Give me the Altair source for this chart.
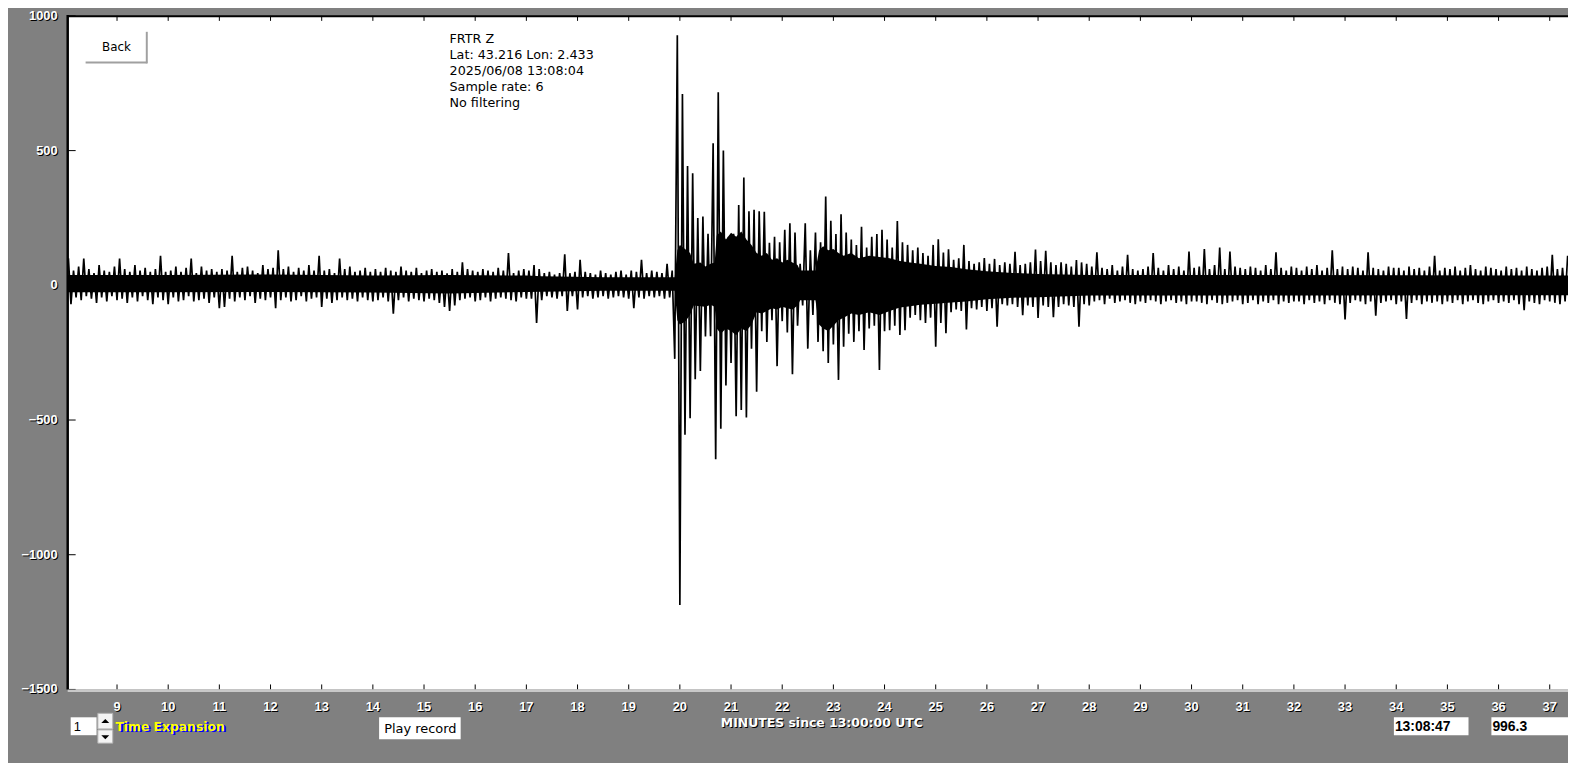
import altair as alt
import pandas as pd

# ---------------------------------------------------------------
# Seismogram FRTR Z, peak readings every 0.05 minute (3 s),
# alternating upper / lower extremes.
# ---------------------------------------------------------------
T_START = 8.05
T_STEP = 0.05

PEAKS = [
    # 8.05 - 9.00
    100, -70, 55, -45, 70, -55, 99, -40, 60, -50, 45, -65, 75, -45, 55, -60, 50, -40, 70, -55,
    # 9.05 - 10.00
    99, -50, 60, -65, 50, -45, 75, -60, 55, -40, 65, -55, 50, -70, 60, -45, 110, -55, 50, -70,
    # 10.05 - 11.00
    55, -45, 70, -60, 50, -55, 65, -40, 99, -60, 45, -55, 70, -50, 55, -65, 60, -45, 50, -85,
    # 11.05 - 12.00
    60, -80, 55, -50, 110, -60, 50, -45, 65, -55, 70, -40, 55, -65, 45, -50, 75, -55, 60, -45,
    # 12.05 - 13.00
    65, -85, 130, -55, 60, -45, 70, -60, 50, -55, 65, -40, 55, -60, 75, -50, 55, -45, 110, -80,
    # 13.05 - 14.00
    55, -50, 60, -65, 45, -55, 99, -45, 60, -55, 70, -50, 50, -60, 55, -45, 65, -55, 50, -60,
    # 14.05 - 15.00
    60, -55, 50, -45, 65, -60, 55, -105, 50, -55, 70, -45, 55, -60, 50, -50, 65, -55, 45, -60,
    # 15.05 - 16.00
    55, -50, 60, -55, 50, -65, 55, -80, 45, -95, 60, -75, 50, -55, 85, -50, 60, -45, 55, -60,
    # 16.05 - 17.00
    50, -55, 60, -45, 55, -60, 50, -50, 65, -45, 55, -50, 120, -55, 45, -60, 55, -45, 60, -50,
    # 17.05 - 18.00
    55, -50, 75, -140, 60, -55, 45, -40, 50, -45, 40, -50, 45, -40, 115, -95, 45, -40, 50, -90,
    # 18.05 - 19.00
    95, -45, 50, -40, 45, -50, 40, -45, 55, -40, 45, -50, 40, -45, 50, -40, 55, -45, 40, -50,
    # 19.05 - 20.00
    55, -85, 50, -45, 95, -50, 45, -40, 55, -45, 50, -40, 45, -50, 80, -45, 55, -273, 928, -1187,
    # 20.05 - 21.00
    710, -555, 443, -493, 416, -349, 250, -318, 255, -190, 191, -189, 527, -646, 717, -532, 500, -372, 180, -288,
    # 21.05 - 22.00
    191, -486, 298, -463, 400, -491, 275, -235, 280, -395, 275, -170, 273, -210, 158, -130, 180, -300, 160, -133,
    # 22.05 - 23.00
    206, -175, 230, -330, 196, -150, 80, -75, 230, -235, 130, -110, 196, -210, 160, -245, 330, -288, 240, -220,
    # 23.05 - 24.00
    190, -351, 264, -228, 196, -180, 170, -210, 150, -170, 217, -240, 140, -160, 180, -150, 190, -314, 206, -170,
    # 24.05 - 25.00
    170, -167, 140, -150, 239, -184, 160, -167, 150, -120, 130, -110, 140, -130, 120, -140, 110, -120, 150, -228,
    # 25.05 - 26.00
    171, -140, 122, -178, 134, -100, 95, -90, 100, -95, 150, -164, 90, -85, 80, -90, 85, -80, 101, -95,
    # 26.05 - 27.00
    80, -85, 98, -154, 75, -70, 85, -75, 80, -70, 124, -80, 75, -111, 80, -75, 85, -80, 133, -121,
    # 27.05 - 28.00
    90, -75, 128, -80, 85, -118, 75, -80, 85, -70, 80, -75, 70, -80, 94, -154, 85, -70, 80, -75,
    # 28.05 - 29.00
    70, -60, 123, -55, 65, -70, 60, -50, 75, -65, 55, -60, 70, -55, 113, -65, 60, -70, 55, -60,
    # 29.05 - 30.00
    60, -65, 70, -55, 120, -60, 65, -70, 55, -60, 75, -55, 60, -65, 70, -60, 55, -70, 125, -60,
    # 30.05 - 31.00
    65, -60, 70, -65, 135, -70, 60, -55, 75, -65, 140, -70, 60, -65, 125, -60, 70, -55, 65, -70,
    # 31.05 - 32.00
    60, -65, 70, -55, 65, -70, 55, -60, 75, -65, 60, -55, 123, -70, 65, -60, 55, -65, 70, -60,
    # 32.05 - 33.00
    65, -60, 55, -70, 70, -55, 60, -65, 75, -60, 55, -70, 65, -55, 130, -65, 60, -70, 70, -127,
    # 33.05 - 34.00
    60, -65, 70, -55, 65, -60, 55, -70, 123, -60, 65, -113, 60, -65, 55, -60, 70, -55, 65, -70,
    # 34.05 - 35.00
    65, -60, 55, -125, 70, -65, 60, -55, 65, -70, 55, -60, 70, -65, 110, -60, 55, -70, 65, -60,
    # 35.05 - 36.00
    60, -65, 70, -55, 55, -70, 65, -60, 75, -55, 60, -65, 55, -70, 70, -60, 65, -55, 60, -65,
    # 36.05 - 37.00
    55, -60, 70, -65, 60, -55, 65, -70, 55, -92, 70, -60, 60, -65, 55, -70, 65, -55, 70, -60,
    # 37.05 - 37.35
    113, -65, 60, -70, 65, -60, 110,
]

# densely over-drawn core of the trace (upper / lower edge)
CORE_T = [8.04, 10.0, 12.0, 14.0, 15.5, 17.0, 17.3, 18.5, 19.9,
          19.95, 20.0, 20.1, 20.2, 20.27, 20.4, 20.5, 20.6, 20.68, 20.72,
          20.8, 20.9, 21.0, 21.1, 21.2, 21.3, 21.4, 21.5, 21.6, 21.7,
          21.8, 21.9, 22.0, 22.1, 22.2, 22.3, 22.35, 22.65, 22.72, 22.8,
          22.9, 23.0, 23.1, 23.2, 23.35, 23.5, 23.7, 23.9, 24.1, 24.3,
          24.5, 24.7, 25.0, 25.3, 25.6, 26.0, 26.5, 27.0, 28.0, 32.0, 37.36]
CORE_HI = [38, 38, 40, 36, 38, 36, 34, 30, 30,
           130, 150, 135, 120, 80, 85, 70, 80, 85, 185,
           200, 170, 195, 180, 200, 170, 150, 120, 110, 120,
           95, 100, 85, 95, 85, 75, 55, 55, 130, 145,
           130, 135, 120, 110, 120, 100, 110, 105, 100, 90,
           85, 80, 72, 68, 60, 52, 46, 42, 38, 38, 36]
CORE_LO = [-26, -26, -25, -27, -30, -25, -24, -20, -20,
           -130, -145, -135, -110, -75, -78, -80, -72, -80, -160,
           -180, -160, -170, -185, -160, -170, -145, -100, -105, -95,
           -85, -90, -80, -85, -90, -75, -55, -55, -145, -160,
           -170, -150, -130, -120, -105, -110, -100, -110, -95, -82,
           -78, -72, -68, -64, -60, -52, -46, -44, -38, -38, -37]

MINUTE_TICKS = list(range(9, 38))
COUNT_TICKS = [1000, 500, 0, -500, -1000, -1500]
INFO_LINES = [
    "FRTR  Z",
    "Lat: 43.216 Lon: 2.433",
    "2025/06/08 13:08:04",
    "Sample rate: 6",
    "No filtering",
]
X_TITLE = "MINUTES since 13:00:00 UTC"

X_DOMAIN = [8.036, 37.357]
Y_DOMAIN = [-1500, 1000]

W, H = 1508, 677
GRAY_BG = "#808080"

times = [round(T_START + T_STEP * i, 3) for i in range(len(PEAKS))]
trace_df = pd.DataFrame({"minute": times, "counts": PEAKS})
core_df = pd.DataFrame({"minute": CORE_T, "hi": CORE_HI, "lo": CORE_LO})
mt_df = pd.DataFrame({"minute": MINUTE_TICKS})
ct_df = pd.DataFrame({"counts": COUNT_TICKS})
one = pd.DataFrame({"k": [0]})

XS = alt.Scale(domain=X_DOMAIN, nice=False, zero=False)
YS = alt.Scale(domain=Y_DOMAIN, nice=False, zero=False)
xm = alt.X("minute:Q", scale=XS, axis=None)
yc = alt.Y("counts:Q", scale=YS, axis=None)

core = alt.Chart(core_df).mark_area(color="black", opacity=1, clip=True).encode(
    x=xm, y=alt.Y("hi:Q", scale=YS, axis=None), y2="lo:Q")
trace = alt.Chart(trace_df).mark_line(
    color="black", strokeWidth=1.7, clip=True
).encode(x=xm, y=yc)

# frame
left_border = alt.Chart(one).mark_rule(color="black", strokeWidth=2.5).encode(
    x=alt.value(0), y=alt.value(-1), y2=alt.value(H))
top_border = alt.Chart(one).mark_rule(color="black", strokeWidth=2).encode(
    x=alt.value(0), x2=alt.value(W), y=alt.value(0.3))
bottom_border = alt.Chart(one).mark_rule(color="#c8c8c8", strokeWidth=2.5).encode(
    x=alt.value(0), x2=alt.value(W), y=alt.value(H + 1.2))

# ticks
x_ticks_bottom = alt.Chart(mt_df).mark_rule(color="black", strokeWidth=1).encode(
    x=xm, y=alt.value(H - 5), y2=alt.value(H))
x_ticks_top = alt.Chart(mt_df).mark_rule(color="black", strokeWidth=1).encode(
    x=xm, y=alt.value(0), y2=alt.value(5))
y_ticks = alt.Chart(ct_df).mark_rule(color="black", strokeWidth=1).encode(
    x=alt.value(0), x2=alt.value(8), y=yc)

LAB_FONT = "Liberation Sans"
x_lab_sh = alt.Chart(mt_df).mark_text(
    font=LAB_FONT, fontSize=13, fontWeight="bold", color="black",
    baseline="middle", align="center", dx=1, dy=1
).encode(x=xm, y=alt.value(694.5), text=alt.Text("minute:Q", format="d"))
x_lab = alt.Chart(mt_df).mark_text(
    font=LAB_FONT, fontSize=13, fontWeight="bold", color="white",
    baseline="middle", align="center"
).encode(x=xm, y=alt.value(694.5), text=alt.Text("minute:Q", format="d"))

y_lab_sh = alt.Chart(ct_df).mark_text(
    font=LAB_FONT, fontSize=13, fontWeight="bold", color="black",
    baseline="middle", align="right", dx=1, dy=1
).encode(x=alt.value(-10), y=yc, text=alt.Text("counts:Q", format="d"))
y_lab = alt.Chart(ct_df).mark_text(
    font=LAB_FONT, fontSize=13, fontWeight="bold", color="white",
    baseline="middle", align="right"
).encode(x=alt.value(-10), y=yc, text=alt.Text("counts:Q", format="d"))

title_sh = alt.Chart(one).mark_text(
    text=X_TITLE, font="DejaVu Sans", fontSize=12.5, fontWeight="bold",
    color="black", align="center", baseline="middle", dx=1, dy=1
).encode(x=alt.value(758), y=alt.value(711))
title_tx = alt.Chart(one).mark_text(
    text=X_TITLE, font="DejaVu Sans", fontSize=12.5, fontWeight="bold",
    color="white", align="center", baseline="middle"
).encode(x=alt.value(758), y=alt.value(711))

# station info block, one text layer per line
info_layers = []
for row, line in enumerate(INFO_LINES):
    info_layers.append(
        alt.Chart(one).mark_text(
            text=line, font="DejaVu Sans", fontSize=12.8, color="black",
            align="left", baseline="middle"
        ).encode(x=alt.value(383.8), y=alt.value(23.6 + 16.1 * row))
    )

# Back button
back_bottom = alt.Chart(one).mark_rule(color="#a0a0a0", strokeWidth=2).encode(
    x=alt.value(18), x2=alt.value(80), y=alt.value(46.8))
back_right = alt.Chart(one).mark_rule(color="#a0a0a0", strokeWidth=2).encode(
    x=alt.value(79.5), y=alt.value(16), y2=alt.value(47.7))
back_text = alt.Chart(one).mark_text(
    text="Back", font="DejaVu Sans", fontSize=12, color="black",
    align="center", baseline="middle"
).encode(x=alt.value(49), y=alt.value(31.5))


def box(x0, x1, y0, y1, fill="white", stroke=None):
    kw = dict(color=fill)
    if stroke:
        kw.update(stroke=stroke, strokeWidth=1)
    return alt.Chart(one).mark_rect(**kw).encode(
        x=alt.value(x0), x2=alt.value(x1), y=alt.value(y0), y2=alt.value(y1))


exp_box = box(3, 29, 705, 723)
exp_text = alt.Chart(one).mark_text(
    text="1", font=LAB_FONT, fontSize=13, color="black", align="left", baseline="middle"
).encode(x=alt.value(6), y=alt.value(714.5))
spin_up = box(30.3, 45.3, 701, 716.7, fill="#f4f4f4", stroke="#b0b0b0")
spin_dn = box(30.3, 45.3, 717.7, 731, fill="#f4f4f4", stroke="#b0b0b0")
arrow_up = alt.Chart(one).mark_point(
    shape="M-1,0.5L1,0.5L0,-0.5Z", filled=True, color="black", size=64, opacity=1
).encode(x=alt.value(37.8), y=alt.value(708.7))
arrow_dn = alt.Chart(one).mark_point(
    shape="M-1,-0.5L1,-0.5L0,0.5Z", filled=True, color="black", size=64, opacity=1
).encode(x=alt.value(37.8), y=alt.value(725))

te_sh = alt.Chart(one).mark_text(
    text="Time Expansion", font="DejaVu Sans", fontSize=12.4, fontWeight="bold",
    color="#0000ff", align="left", baseline="middle", dx=2, dy=1.5
).encode(x=alt.value(48), y=alt.value(714.5))
te_tx = alt.Chart(one).mark_text(
    text="Time Expansion", font="DejaVu Sans", fontSize=12.4, fontWeight="bold",
    color="#ffff00", align="left", baseline="middle"
).encode(x=alt.value(48), y=alt.value(714.5))

play_box = box(313, 395, 705, 727)
play_text = alt.Chart(one).mark_text(
    text="Play record", font="DejaVu Sans", fontSize=13, color="black",
    align="center", baseline="middle"
).encode(x=alt.value(354.5), y=alt.value(716.5))

clock_box = box(1333, 1408, 705, 723)
clock_text = alt.Chart(one).mark_text(
    text="13:08:47", font=LAB_FONT, fontSize=14, fontWeight="bold", color="black",
    align="left", baseline="middle"
).encode(x=alt.value(1334), y=alt.value(714.5))
val_box = box(1431, 1510, 705, 723)
val_text = alt.Chart(one).mark_text(
    text="996.3", font=LAB_FONT, fontSize=14, fontWeight="bold", color="black",
    align="left", baseline="middle"
).encode(x=alt.value(1432), y=alt.value(714.5))

chart = alt.layer(
    core, trace,
    x_ticks_bottom, x_ticks_top, y_ticks,
    left_border, top_border, bottom_border,
    x_lab_sh, x_lab, y_lab_sh, y_lab, title_sh, title_tx,
    *info_layers,
    back_bottom, back_right, back_text,
    exp_box, exp_text, spin_up, spin_dn, arrow_up, arrow_dn, te_sh, te_tx,
    play_box, play_text, clock_box, clock_text, val_box, val_text,
).properties(
    width=W,
    height=H,
    autosize=alt.AutoSizeParams(type="none"),
    padding={"left": 60, "top": 6, "right": 0, "bottom": 72},
    background=GRAY_BG,
).configure_view(fill="white", stroke=None)

chart.save("out.html", embed_options={"renderer": "svg", "actions": False})
